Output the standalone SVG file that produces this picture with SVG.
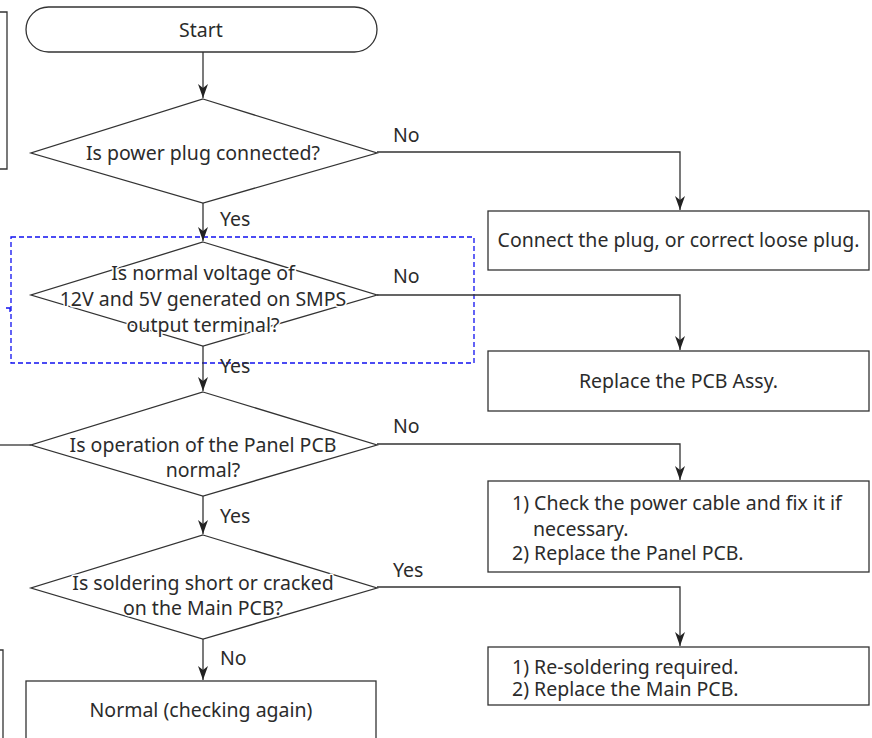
<svg xmlns="http://www.w3.org/2000/svg" width="872" height="738" viewBox="0 0 872 738">
  <style>
    .shape { fill: #fff; stroke: #333; stroke-width: 1.3; }
    .edge { fill: none; stroke: #333; stroke-width: 1.3; }
    .frag { fill: none; stroke: #333; stroke-width: 1.3; }
    .guide { fill: none; stroke: #1010f0; stroke-width: 1.3; stroke-dasharray: 5 3; }
    text { font-family: "Noto Sans", "Open Sans", sans-serif; font-size: 19.5px; fill: #2b2b2b; }
    .c { text-anchor: middle; }
    .halo { stroke: #fff; stroke-width: 3; paint-order: stroke; stroke-linejoin: round; }
  </style>
  <defs>
    <marker id="arrow" viewBox="0 0 14 10" markerUnits="userSpaceOnUse" markerWidth="14" markerHeight="10" refX="14" refY="5" orient="auto">
      <path d="M0,0 L14,5 L0,10 L4,5 Z" fill="#222"/>
    </marker>
  </defs>

  <rect width="872" height="738" fill="#fff"/>

  <!-- edges of neighbouring frames at the page margin -->
  <g id="margin-fragments">
    <path class="frag" d="M0,12 H7 V169 H0"/>
    <path class="frag" d="M0,650 H3 V738"/>
    <path class="frag" d="M0,445 H31"/>
    <path class="guide" style="stroke-dasharray:none" d="M6,308 H10 V312"/>
  </g>

  <!-- dashed highlight around the SMPS check -->
  <rect class="guide" x="11" y="237" width="463" height="126"/>

  <g id="connectors">
    <path class="edge" d="M203,52 V98" marker-end="url(#arrow)"/>
    <path class="edge" d="M203,203 V241" marker-end="url(#arrow)"/>
    <path class="edge" d="M203,346 V391" marker-end="url(#arrow)"/>
    <path class="edge" d="M203,496 V534" marker-end="url(#arrow)"/>
    <path class="edge" d="M203,639 V680" marker-end="url(#arrow)"/>
    <path class="edge" d="M377,152 H680 V210" marker-end="url(#arrow)"/>
    <path class="edge" d="M377,295 H680 V350" marker-end="url(#arrow)"/>
    <path class="edge" d="M377,444 H680 V480" marker-end="url(#arrow)"/>
    <path class="edge" d="M377,587 H680 V646" marker-end="url(#arrow)"/>
    <text x="220" y="226">Yes</text>
    <text x="393" y="142">No</text>
    <text x="393" y="283">No</text>
    <text x="220" y="373">Yes</text>
    <text x="393" y="433">No</text>
    <text x="220" y="523">Yes</text>
    <text x="393" y="577">Yes</text>
    <text x="220" y="665">No</text>
  </g>

  <g id="start">
    <rect class="shape" x="26" y="7" width="351" height="45" rx="22.5"/>
    <text class="c" x="201" y="37">Start</text>
  </g>

  <g id="q-plug">
    <polygon class="shape" points="203,99 377,153 203,203 31,153"/>
    <text class="c" x="203" y="160">Is power plug connected?</text>
  </g>

  <g id="q-smps">
    <polygon class="shape" points="203,242 377,295 203,346 31,295"/>
    <text class="c halo" x="203" y="280">Is normal voltage of</text>
    <text class="c halo" x="203" y="306">12V and 5V generated on SMPS</text>
    <text class="c halo" x="203" y="332">output terminal?</text>
  </g>

  <g id="q-panel">
    <polygon class="shape" points="203,392 377,445 203,496 31,445"/>
    <text class="c halo" x="203" y="452">Is operation of the Panel PCB</text>
    <text class="c halo" x="203" y="477">normal?</text>
  </g>

  <g id="q-solder">
    <polygon class="shape" points="203,535 377,588 203,639 31,588"/>
    <text class="c halo" x="203" y="590">Is soldering short or cracked</text>
    <text class="c halo" x="203" y="615">on the Main PCB?</text>
  </g>

  <g id="normal">
    <rect class="shape" x="26" y="681" width="350" height="80"/>
    <text class="c" x="201" y="717">Normal (checking again)</text>
  </g>

  <g id="fix-plug">
    <rect class="shape" x="488" y="211" width="381" height="59"/>
    <text class="c" x="678.5" y="247">Connect the plug, or correct loose plug.</text>
  </g>

  <g id="fix-pcb">
    <rect class="shape" x="488" y="351" width="381" height="60"/>
    <text class="c" x="678.5" y="388">Replace the PCB Assy.</text>
  </g>

  <g id="fix-panel">
    <rect class="shape" x="488" y="481" width="381" height="91"/>
    <text x="512" y="510">1) Check the power cable and fix it if</text>
    <text x="533" y="536">necessary.</text>
    <text x="512" y="560">2) Replace the Panel PCB.</text>
  </g>

  <g id="fix-main">
    <rect class="shape" x="488" y="647" width="381" height="58"/>
    <text x="512" y="674">1) Re-soldering required.</text>
    <text x="512" y="696">2) Replace the Main PCB.</text>
  </g>
</svg>
